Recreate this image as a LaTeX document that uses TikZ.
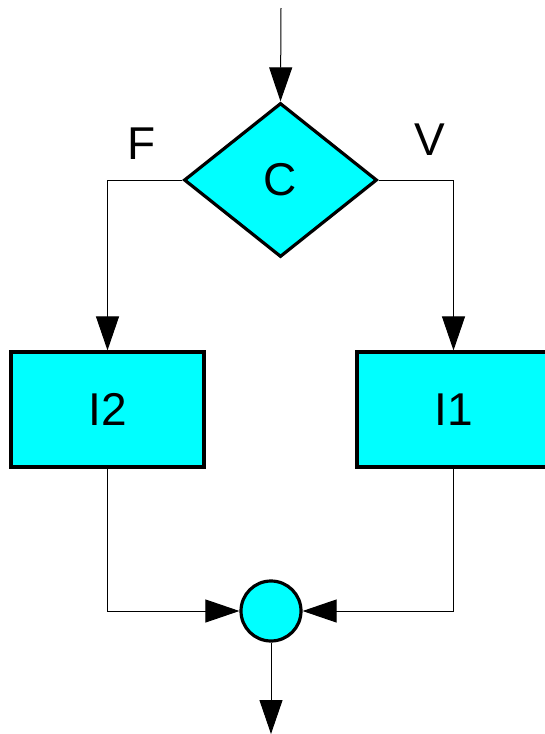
\documentclass[tikz,border=0pt]{standalone}
\usepackage{fontspec}
\setmainfont{Liberation Sans}
\usetikzlibrary{shapes.geometric,arrows.meta,positioning}
\definecolor{boxcyan}{RGB}{0,255,255}

\begin{document}
\begin{tikzpicture}[
        x=1pt, y=-1pt,
        every node/.style={font=\fontsize{46}{55}\selectfont},
        cond/.style={diamond, draw=black, line width=3.2pt, fill=boxcyan, minimum width=193pt, minimum height=154pt, aspect=1.25, inner sep=0pt},
        instr/.style={rectangle, draw=black, line width=3.2pt, fill=boxcyan, minimum width=193pt, minimum height=115pt, inner sep=0pt},
        junction/.style={circle, draw=black, line width=3.2pt, fill=boxcyan, minimum size=60pt, inner sep=0pt},
        arrow/.style={-{Triangle[length=34pt,width=23pt]}, line width=1pt, draw=black}
        ]
        \useasboundingbox (0,0) rectangle (544,734);

        \coordinate (entry) at (281,8);
        \node[cond] (test) at (280.5,180) {C};
        \node[instr] (else) at (107.5,409.5) {I2};
        \node[instr] (then) at (453.5,409.5) {I1};
        \node[junction] (merge) at (271,611) {};
        \coordinate (exit) at (271,734);

        \node (false) at (141.5,144) {F};
        \node (true) at (430,140) {V};

        \draw[arrow] (entry) -- (test.north);
        \draw[arrow] (test.west) -| (else.north);
        \draw[arrow] (test.east) -| (then.north);
        \draw[arrow] (else.south) |- (merge.west);
        \draw[arrow] (then.south) |- (merge.east);
        \draw[arrow] (merge.south) -- (exit);

    \end{tikzpicture}
\end{document}
